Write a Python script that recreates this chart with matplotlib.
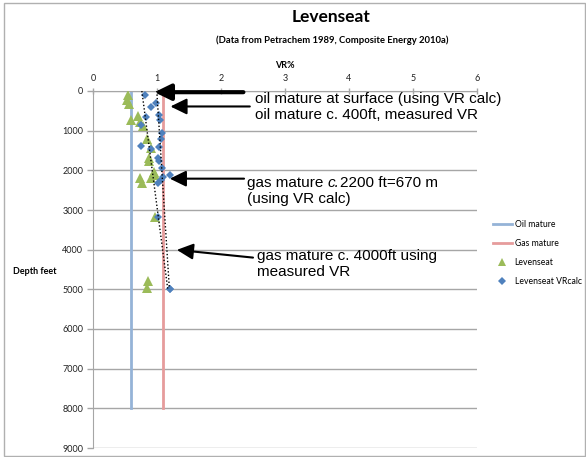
import numpy as np
import matplotlib
matplotlib.use("Agg")
import matplotlib.pyplot as plt
from matplotlib.lines import Line2D
from matplotlib.patches import Rectangle

plt.rcParams['font.family'] = ['Lato', 'DejaVu Sans']

# ---------------- data ----------------
x_ticks = [0, 1, 2, 3, 4, 5, 6]
y_ticks = [0, 1000, 2000, 3000, 4000, 5000, 6000, 7000, 8000, 9000]
y_tick_labels = ["0", "1000", "2000", "3000", "4000", "5000", "6000", "7000", "8000", "9000"]

oil_mature_vr = 0.6
gas_mature_vr = 1.1
mature_depths = [0, 8000]

# Levenseat measured VR
lev_vr = [0.55, 0.53, 0.56, 0.70, 0.59, 0.73, 0.78, 0.85, 0.91, 0.87, 0.87,
          0.95, 0.97, 0.91, 0.74, 0.77, 0.97, 0.86, 0.84]
lev_depth = [100, 230, 330, 620, 740, 780, 870, 1220, 1430, 1680, 1760,
             2030, 2115, 2200, 2200, 2325, 3180, 4800, 4970]

# Levenseat VR calc (two calculated sets)
calc_a_vr = [0.81, 0.90, 0.83, 0.75, 0.75, 0.90, 1.02, 1.20]
calc_a_depth = [100, 395, 650, 865, 1380, 1450, 3170, 4980]
calc_b_vr = [0.98, 1.03, 1.05, 1.075, 1.06, 1.03, 1.02, 1.03, 1.075, 1.20,
             1.10, 1.06, 1.01, 1.20]
calc_b_depth = [290, 600, 740, 1050, 1220, 1420, 1680, 1755, 1940, 2130,
                2170, 2240, 2320, 4980]

# ---------------- figure ----------------
W, H = 586, 457
fig = plt.figure(figsize=(W / 100, H / 100), dpi=100)

def fx(px):
    return px / W

def fy(py):
    return 1 - py / H

ax = fig.add_axes([fx(93), fy(448), (477 - 93) / W, (448 - 91) / H])

oil_c = '#95B3D7'
gas_c = '#E69C9C'
green = '#9BBB59'
blue = '#4F81BD'
grid_c = '#A6A6A6'

ax.plot([oil_mature_vr] * 2, mature_depths, color=oil_c, lw=2, zorder=2)
ax.plot([gas_mature_vr] * 2, mature_depths, color=gas_c, lw=2, zorder=2)

ax.plot(lev_vr, lev_depth, ls='none', marker='^', ms=6.5, color=green,
        markeredgewidth=0, zorder=4)
ax.plot(calc_a_vr, calc_a_depth, ls='none', marker='D', ms=4.5, color=blue,
        markeredgewidth=0, zorder=5)
ax.plot(calc_b_vr, calc_b_depth, ls='none', marker='D', ms=4.5, color=blue,
        markeredgewidth=0, zorder=5)

# trend lines (linear fit of VR against depth)
for vr, d in ((calc_a_vr, calc_a_depth), (calc_b_vr, calc_b_depth)):
    coef = np.polyfit(d, vr, 1)
    dd = np.linspace(0, max(d), 60)
    ax.plot(np.polyval(coef, dd), dd, color='black', ls=(0, (1, 1.5)), lw=1,
            zorder=6)

ax.set_xlim(0, 6)
ax.set_ylim(9000, 0)
ax.set_xticks(x_ticks)
ax.set_xticklabels([str(v) for v in x_ticks])
ax.set_yticks(y_ticks)
ax.set_yticklabels(y_tick_labels)
ax.xaxis.tick_top()
ax.tick_params(axis='x', direction='inout', length=5, color=grid_c, width=1,
               labelsize=6.5, pad=3, labelcolor='#222222')
ax.tick_params(axis='y', direction='out', length=4, color=grid_c, width=1,
               labelsize=6.5, pad=3, labelcolor='#222222')
ax.yaxis.grid(True, color=grid_c, lw=1)
ax.set_axisbelow(True)
for s in ('right', 'bottom'):
    ax.spines[s].set_visible(False)
ax.spines['left'].set_color(grid_c)
ax.spines['top'].set_color(grid_c)

# titles & axis labels
fig.text(fx(331), fy(17), "Levenseat", ha='center', va='center',
         fontsize=12.5, fontweight='bold')
fig.text(fx(332), fy(40), "(Data from Petrachem 1989, Composite Energy 2010a)",
         ha='center', va='center', fontsize=6.8, fontweight='bold')
fig.text(fx(285), fy(66), "VR%", ha='center', va='center', fontsize=6.5,
         fontweight='bold')
fig.text(fx(35), fy(272), "Depth feet", ha='center', va='center',
         fontsize=6.5, fontweight='bold')

# annotations
ann_font = dict(family=['Liberation Sans', 'DejaVu Sans'], fontsize=11,
                ha='left', va='center', color='black')
fig.text(fx(255), fy(99), "oil mature at surface (using VR calc)", **ann_font)
fig.text(fx(255), fy(115), "oil mature c. 400ft, measured VR", **ann_font)
fig.text(fx(247), fy(199), "(using VR calc)", **ann_font)
fig.text(fx(257), fy(256), "gas mature c. 4000ft using", **ann_font)
fig.text(fx(257), fy(272), "measured VR", **ann_font)

# "gas mature c.2200 ft=670 m" with italic "c."
t1 = fig.text(fx(247), fy(183), "gas mature ", **ann_font)
fig.canvas.draw()
w1 = t1.get_window_extent().width
t2 = fig.text(fx(247) + w1 / W, fy(183), "c.", style='italic', **ann_font)
fig.canvas.draw()
w2 = t2.get_window_extent().width
fig.text(fx(247) + (w1 + w2) / W, fy(183), "2200 ft=670 m", **ann_font)

def arrow(tail, tip, lw):
    ax.annotate('', xy=tip, xytext=tail,
                arrowprops=dict(arrowstyle='-|>,head_length=0.45,head_width=0.22',
                                mutation_scale=22, color='black', lw=lw,
                                shrinkA=0, shrinkB=0),
                annotation_clip=False, zorder=7)

arrow((2.35, 30), (0.96, 30), 3)
arrow((2.45, 390), (1.21, 390), 1.5)
arrow((2.36, 2210), (1.2, 2210), 1.5)
arrow((2.50, 4200), (1.31, 4005), 1.5)

# legend
handles = [Line2D([], [], color=oil_c, lw=2),
           Line2D([], [], color=gas_c, lw=2),
           Line2D([], [], ls='none', marker='^', ms=6, color=green, markeredgewidth=0),
           Line2D([], [], ls='none', marker='D', ms=4.5, color=blue, markeredgewidth=0)]
labels = ["Oil mature", "Gas mature", "Levenseat", "Levenseat VRcalc"]
fig.legend(handles, labels, loc='upper left', bbox_to_anchor=(fx(493), fy(220)),
           frameon=False, fontsize=6.2, handlelength=2.2, handletextpad=0.3,
           labelspacing=1.15, borderpad=0, borderaxespad=0)

# outer border
fig.patches.append(Rectangle((fx(4), fy(456)), (585 - 4) / W, (456 - 3) / H,
                             transform=fig.transFigure, fill=False,
                             edgecolor='#B0B0B0', lw=1))

fig.savefig("out.png", dpi=100)
